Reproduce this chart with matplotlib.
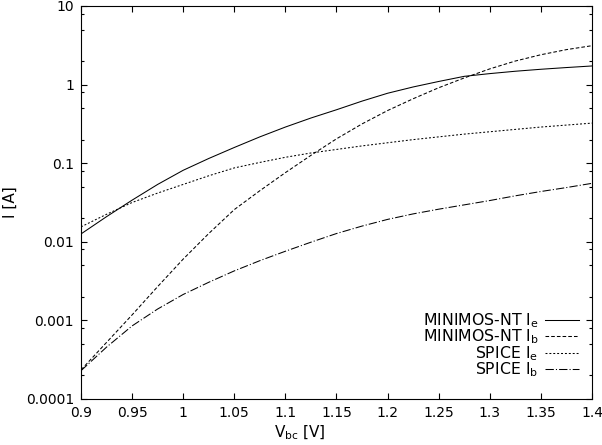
import matplotlib
matplotlib.use("Agg")
import matplotlib.pyplot as plt
from matplotlib.ticker import LogLocator, FixedLocator, NullLocator, FuncFormatter

plt.rcParams['font.family'] = ['DejaVu Sans']
plt.rcParams['mathtext.fontset'] = 'dejavusans'
plt.rcParams['lines.scale_dashes'] = False

# Data
vbc = [0.900, 0.925, 0.950, 0.975, 1.000, 1.025, 1.050, 1.075, 1.100, 1.125, 1.150,
       1.175, 1.200, 1.225, 1.250, 1.275, 1.300, 1.325, 1.350, 1.375, 1.400]
minimos_ie = [0.01259, 0.02089, 0.03388, 0.05370, 0.08128, 0.1148, 0.1585, 0.2163, 0.2884,
              0.3758, 0.4786, 0.6166, 0.7762, 0.9333, 1.096, 1.274, 1.380, 1.479, 1.567,
              1.648, 1.726]
minimos_ib = [0.0002344, 0.0005248, 0.001175, 0.002692, 0.006026, 0.01274, 0.02570, 0.04467,
              0.07586, 0.1259, 0.2042, 0.3162, 0.4677, 0.6607, 0.9120, 1.216, 1.585, 1.995,
              2.399, 2.786, 3.126]
spice_ie = [0.01549, 0.02239, 0.03162, 0.04169, 0.05370, 0.06918, 0.08710, 0.1023, 0.1189,
            0.1349, 0.1496, 0.1660, 0.1820, 0.1995, 0.2163, 0.2344, 0.2512, 0.2692, 0.2884,
            0.3055, 0.3236]
spice_ib = [0.0002291, 0.0004571, 0.0008511, 0.001396, 0.002138, 0.003055, 0.004266, 0.005754,
            0.007586, 0.009886, 0.01274, 0.01585, 0.01928, 0.02265, 0.02600, 0.02951, 0.03350,
            0.03846, 0.04365, 0.04898, 0.05546]

labels = [r'MINIMOS-NT I$_\mathregular{e}$', r'MINIMOS-NT I$_\mathregular{b}$',
          r'SPICE I$_\mathregular{e}$', r'SPICE I$_\mathregular{b}$']
xticks = [0.9, 0.95, 1.0, 1.05, 1.1, 1.15, 1.2, 1.25, 1.3, 1.35, 1.4]
yticks = [0.0001, 0.001, 0.01, 0.1, 1, 10]

fig = plt.figure(figsize=(6.02, 4.45), dpi=100)
ax = fig.add_axes([81/602, 1-399/445, (592-81)/602, (399-6)/445])

lw = 0.75
ax.plot(vbc, minimos_ie, color='black', lw=lw, ls='-', label=labels[0])
ax.plot(vbc, minimos_ib, color='black', lw=lw, ls=(0, (2.6, 1.5)), label=labels[1])
ax.plot(vbc, spice_ie, color='black', lw=lw, ls=(0, (1.4, 1.4)), label=labels[2])
ax.plot(vbc, spice_ib, color='black', lw=lw, ls=(0, (6.0, 1.5, 0.8, 1.5)), label=labels[3])

ax.set_yscale('log')
ax.set_xlim(0.9, 1.4)
ax.set_ylim(0.0001, 10)

ax.xaxis.set_major_locator(FixedLocator(xticks))
ax.xaxis.set_minor_locator(NullLocator())
ax.xaxis.set_major_formatter(FuncFormatter(lambda v, p: '%g' % v))
ax.yaxis.set_major_locator(FixedLocator(yticks))
ax.yaxis.set_minor_locator(LogLocator(base=10, subs=[2, 5, 8]))
ax.yaxis.set_major_formatter(FuncFormatter(lambda v, p: '%g' % v))

ax.tick_params(which='both', direction='in', top=True, right=True, width=0.8, colors='black')
ax.tick_params(which='major', length=4.3, labelsize=10, pad=5)
ax.tick_params(which='minor', length=2.2)
for s in ax.spines.values():
    s.set_linewidth(0.8)

ax.set_xlabel(r'V$_\mathregular{bc}$ [V]', fontsize=11)
ax.xaxis.set_label_coords((300 - 81) / 511, -(433 - 399) / 393, transform=ax.transAxes)
ax.xaxis.label.set_va('center')
ax.set_ylabel('I [A]', fontsize=11, labelpad=6)

leg = ax.legend(loc='lower right', bbox_to_anchor=(0.975, 0.050), frameon=False,
                markerfirst=False, fontsize=11.3, handlelength=2.15, handletextpad=0.45,
                labelspacing=-0.14, borderpad=0, borderaxespad=0)
for t in leg.get_texts():
    t.set_ha('right')
leg._legend_box.align = 'right'

fig.savefig('out.png', dpi=100)
